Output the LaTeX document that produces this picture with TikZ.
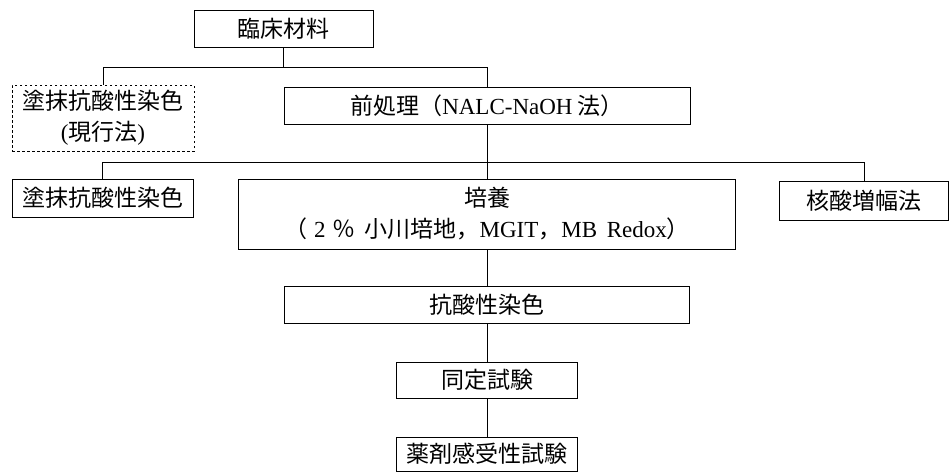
\documentclass[tikz,border=0pt]{standalone}
\usepackage{fontspec}
\setmainfont{Liberation Serif}
\newfontfamily\jp{Noto Sans CJK JP}
\newcommand\latn[1]{{\rmfamily #1}}
\begin{document}
\begin{tikzpicture}[x=1pt,y=-1pt,
  box/.style={draw, line width=1pt, inner sep=0pt, align=center,
    font=\jp\fontsize{23}{31}\selectfont},
  dbox/.style={box, dash pattern=on 2.5pt off 2.5pt},
  conn/.style={line width=1pt}]
\useasboundingbox[fill=white] (0,0) rectangle (950,472);
\node[box, minimum width=179pt, minimum height=37pt] (lin) at (283.5,28.5) {臨床材料};
\node[dbox, minimum width=182pt, minimum height=66pt] (smearA) at (103,118) {塗抹抗酸性染色\\\latn{(}現行法\latn{)}};
\node[box, minimum width=406pt, minimum height=37pt] (pre) at (487,105.5) {前処理（\latn{NALC-NaOH} 法）};
\node[box, minimum width=181pt, minimum height=38pt] (smearB) at (102.5,198) {塗抹抗酸性染色};
\node[box, minimum width=497pt, minimum height=70pt] (cult) at (487,214) {培養\\（\hspace{7pt}\latn{2}\hspace{7pt}％\hspace{9pt}小川培地，\latn{MGIT}，\latn{MB\hspace{4pt} Redox}）};
\node[box, minimum width=169pt, minimum height=39pt] (nat) at (864,200.5) {核酸増幅法};
\node[box, minimum width=405pt, minimum height=37pt] (afs) at (487,304.5) {抗酸性染色};
\node[box, minimum width=181pt, minimum height=36pt] (ident) at (487,380) {同定試験};
\node[box, minimum width=181pt, minimum height=34pt] (drug) at (487,454) {薬剤感受性試験};
\coordinate (busA) at (0,67);
\coordinate (busB) at (0,162);
\draw[conn] (lin.south) -- (lin.south |- busA);
\draw[conn] (smearA.north) -- (smearA.north |- busA) -- (pre.north |- busA) -- (pre.north);
\draw[conn] (pre.south) -- (pre.south |- busB);
\draw[conn] (smearB.north) -- (smearB.north |- busB) -- (nat.north |- busB) -- (nat.north);
\draw[conn] (cult.north) -- (cult.north |- busB);
\draw[conn] (cult.south) -- (afs.north);
\draw[conn] (afs.south) -- (ident.north);
\draw[conn] (ident.south) -- (drug.north);
\end{tikzpicture}
\end{document}
